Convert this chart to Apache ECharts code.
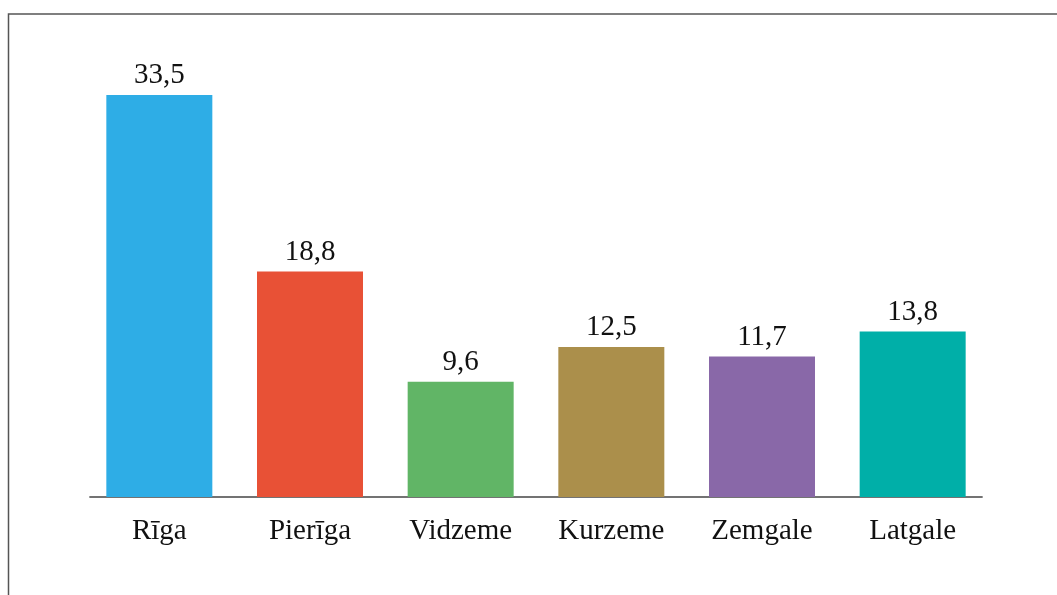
<!DOCTYPE html>
<html>
<head>
<meta charset="utf-8">
<script src="https://cdn.jsdelivr.net/npm/echarts@6/dist/echarts.min.js"></script>
<style>
  html, body { margin: 0; padding: 0; background: #fff; overflow: hidden; }
  #main { width: 1057px; height: 595px; }
</style>
</head>
<body>
<div id="main"></div>
<script>
const regions = ['Rīga', 'Pierīga', 'Vidzeme', 'Kurzeme', 'Zemgale', 'Latgale']
const values = [33.5, 18.8, 9.6, 12.5, 11.7, 13.8]
const colors = ['#2EADE6', '#E85136', '#61B566', '#AB8F4B', '#8968A8', '#00AFA8']

const chart = echarts.init(document.getElementById('main'))

const option = {
  backgroundColor: '#fff',
  animation: false,
  textStyle: { fontFamily: 'Liberation Serif' },
  grid: {
    left: 84,
    right: 69,
    top: 17,
    height: 480
  },
  xAxis: {
    type: 'category',
    data: regions,
    axisLine: { show: false },
    axisTick: { show: false },
    axisLabel: {
      color: '#111',
      fontSize: 29,
      fontFamily: 'Liberation Serif',
      margin: 20
    }
  },
  yAxis: {
    type: 'value',
    min: 0,
    max: 40,
    show: false,
    splitLine: { show: false }
  },
  series: [
    {
      type: 'bar',
      barWidth: 106,
      data: values.map((v, i) => ({ value: v, itemStyle: { color: colors[i] } })),
      label: {
        show: true,
        position: 'top',
        distance: 5,
        color: '#111',
        fontSize: 29,
        fontFamily: 'Liberation Serif',
        formatter: p => String(p.value).replace('.', ',')
      }
    }
  ]
}

option && chart.setOption(option)

// baseline drawn a little shorter than the grid, like the original
const base = chart.convertToPixel({ yAxisIndex: 0 }, 0)
const first = chart.convertToPixel({ xAxisIndex: 0 }, 0)
const last = chart.convertToPixel({ xAxisIndex: 0 }, regions.length - 1)
const pad = 70
chart.setOption({
  graphic: [
    {
      // frame round the chart, cut off at the right and bottom
      type: 'rect',
      silent: true,
      shape: { x: 8.5, y: 14, width: 1200, height: 700 },
      style: { fill: 'none', stroke: '#555', lineWidth: 1.5 }
    },
    {
      type: 'line',
      silent: true,
      shape: { x1: first - pad, y1: base, x2: last + pad, y2: base },
      style: { stroke: '#444', lineWidth: 1.5 }
    }
  ]
})
</script>
</body>
</html>
